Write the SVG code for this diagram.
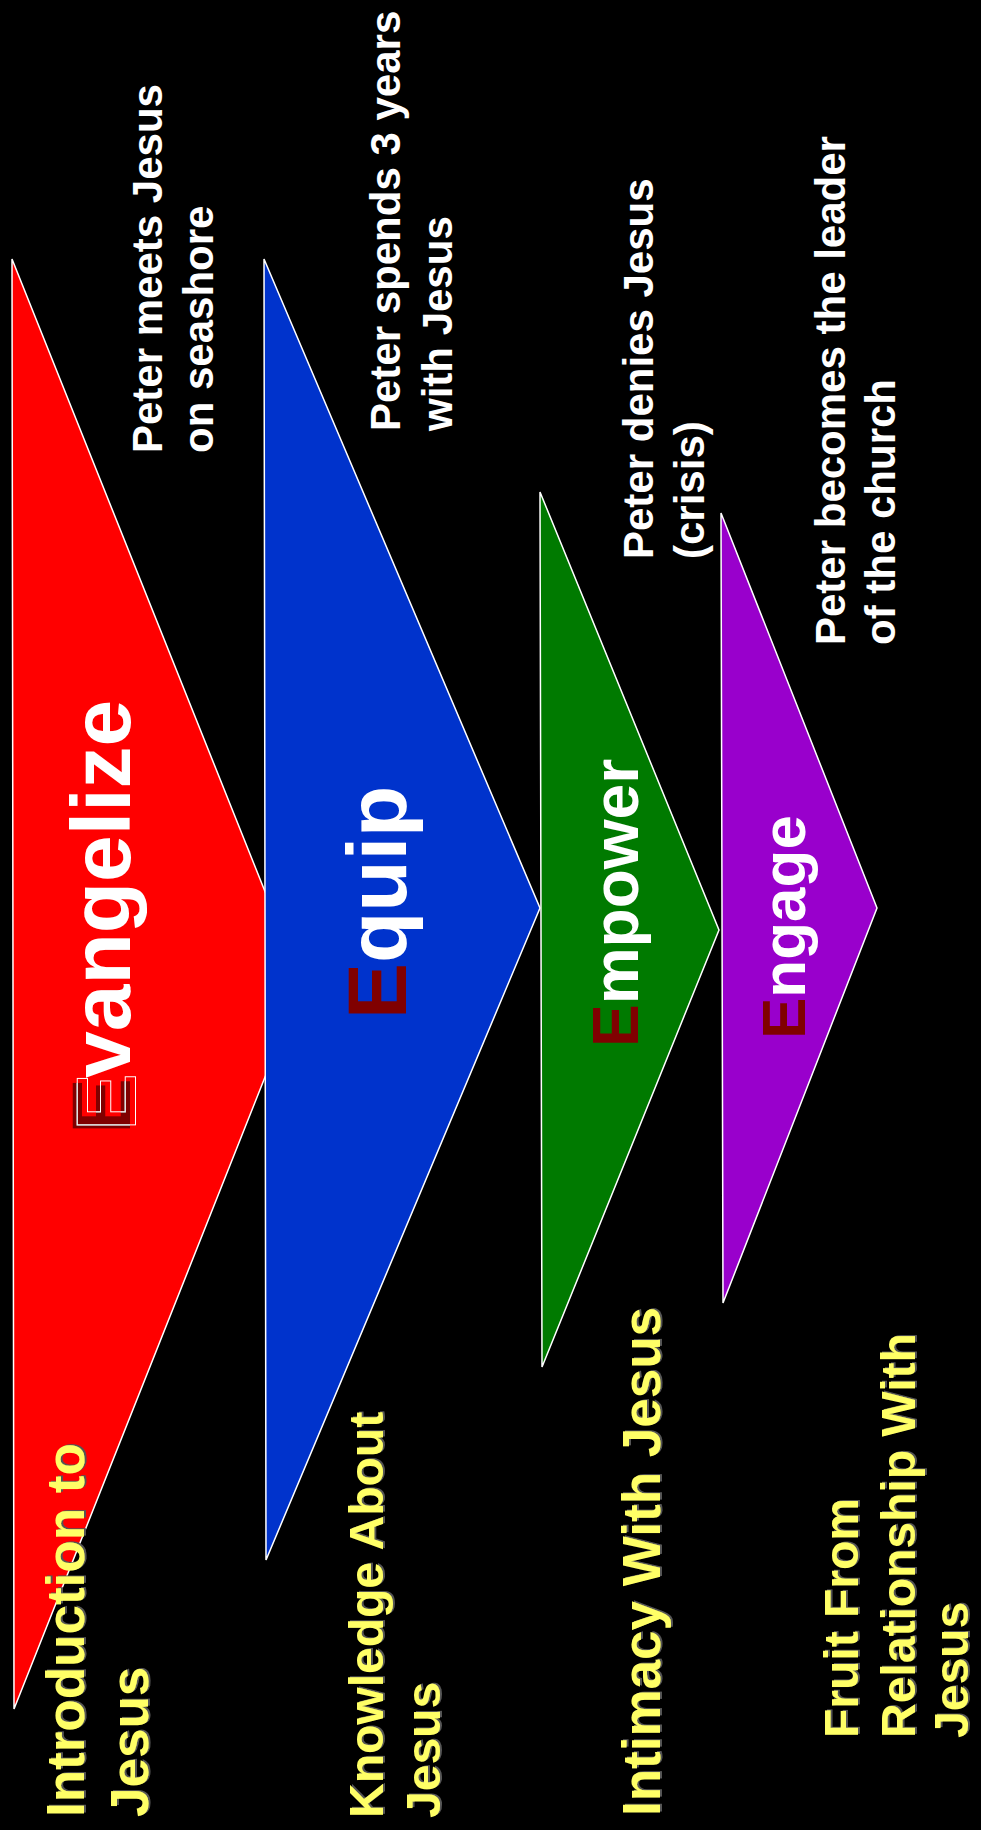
<svg xmlns="http://www.w3.org/2000/svg" width="981" height="1830" viewBox="0 0 981 1830">
<defs>
<style>
.tri{stroke:#ffffff;stroke-width:1.5;stroke-linejoin:miter}
.big{font-family:"Liberation Sans",Arial,sans-serif;font-weight:bold;fill:#ffffff}
.ee{fill:#800000}
.note{font-family:"Liberation Sans",Arial,sans-serif;font-weight:bold;fill:#ffffff;font-size:42px}
.stage{font-family:"Liberation Sans",Arial,sans-serif;font-weight:bold;fill:#ffff66;filter:url(#shadow)}
</style>
<filter id="shadow" x="-10%" y="-20%" width="120%" height="140%">
<feDropShadow dx="1" dy="2" stdDeviation="0.3" flood-color="#555555" flood-opacity="1"/>
</filter>
<filter id="ghost" filterUnits="userSpaceOnUse" primitiveUnits="userSpaceOnUse" x="-20" y="-110" width="480" height="150">
<feMorphology in="SourceAlpha" operator="dilate" radius="1.3" result="d" x="-5" y="-80" width="60" height="95"/>
<feComposite in="d" in2="SourceAlpha" operator="out" result="ring" x="-5" y="-80" width="60" height="95"/>
<feOffset in="ring" dx="4" dy="5" result="ro" x="-5" y="-80" width="66" height="100"/>
<feFlood flood-color="#ffffff" result="wf" x="-5" y="-80" width="66" height="100"/>
<feComposite in="wf" in2="ro" operator="in" result="w" x="-5" y="-80" width="66" height="100"/>
<feMerge><feMergeNode in="SourceGraphic"/><feMergeNode in="w"/></feMerge>
</filter>
</defs>
<rect x="0" y="0" width="981" height="1830" fill="#000000"/>

<g id="evangelize">
<polygon class="tri" fill="#ff0000" points="12,259 302,984 14,1709"/>
<text class="big" font-size="84" transform="translate(130,1134) rotate(-90)" filter="url(#ghost)"><tspan class="ee">E</tspan>vangelize</text>
</g>

<g id="equip">
<polygon class="tri" fill="#0033cc" points="264,259 540,908 266,1560"/>
<text class="big" font-size="84" transform="translate(406,1019) rotate(-90)"><tspan class="ee">E</tspan>quip</text>
</g>

<g id="empower">
<polygon class="tri" fill="#007a00" points="540,492 719,930 542,1367"/>
<text class="big" font-size="64" transform="translate(638,1047) rotate(-90)"><tspan class="ee">E</tspan>mpower</text>
</g>

<g id="engage">
<polygon class="tri" fill="#9900cc" points="721,513 877,908 723,1303"/>
<text class="big" font-size="62" transform="translate(805,1039) rotate(-90)"><tspan class="ee">E</tspan>ngage</text>
</g>

<g id="notes">
<text class="note" transform="translate(162,453) rotate(-90)"><tspan x="0" y="0">Peter meets Jesus</tspan><tspan x="0" dy="51">on seashore</tspan></text>
<text class="note" transform="translate(400,431) rotate(-90)"><tspan x="0" y="0">Peter spends 3 years</tspan><tspan x="0" dy="52">with Jesus</tspan></text>
<text class="note" transform="translate(653,559) rotate(-90)"><tspan x="0" y="0">Peter denies Jesus</tspan><tspan x="0" dy="51">(crisis)</tspan></text>
<text class="note" transform="translate(845,645) rotate(-90)"><tspan x="0" y="0">Peter becomes the leader</tspan><tspan x="0" dy="50">of the church</tspan></text>
</g>

<g id="stages">
<text class="stage" font-size="53" transform="translate(84,1817) rotate(-90)"><tspan x="0" y="0">Introduction to</tspan><tspan x="0" dy="64">Jesus</tspan></text>
<text class="stage" font-size="48" transform="translate(383,1818) rotate(-90)"><tspan x="0" y="0">Knowledge About</tspan><tspan x="0" dy="57">Jesus</tspan></text>
<text class="stage" font-size="53" transform="translate(660,1816) rotate(-90)">Intimacy With Jesus</text>
<text class="stage" font-size="48" transform="translate(858,1738) rotate(-90)"><tspan x="0" y="0">Fruit From</tspan><tspan x="0" dy="57">Relationship With</tspan><tspan x="0" dy="53">Jesus</tspan></text>
</g>
</svg>
